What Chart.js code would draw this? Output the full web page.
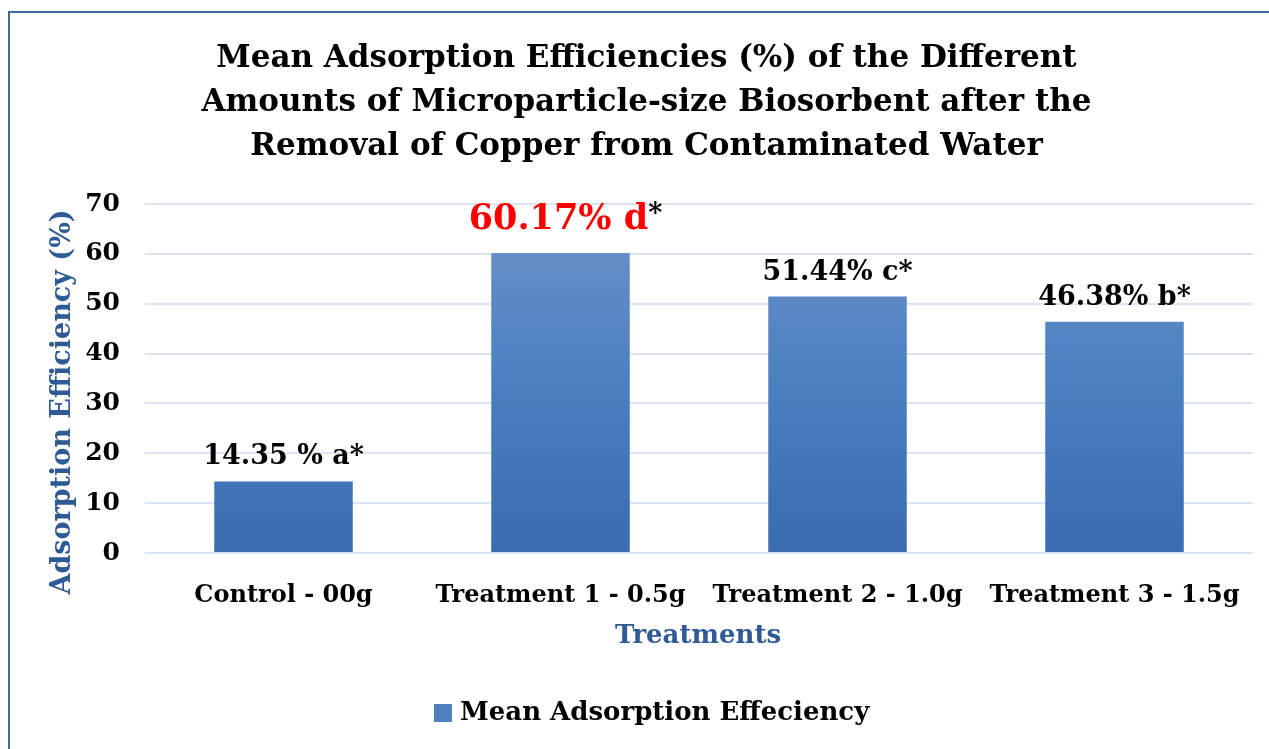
<!DOCTYPE html>
<html>
<head>
<meta charset="utf-8">
<script src="https://cdn.jsdelivr.net/npm/chart.js@4.4.1/dist/chart.umd.min.js"></script>
<style>
  html, body { margin: 0; padding: 0; background: #fff; overflow: hidden; }
  #frame { position: absolute; left: 8px; top: 11px; width: 1300px; height: 800px; border: 2px solid #41679e; box-sizing: border-box; }
  #wrap { position: absolute; left: 0; top: 0; width: 1269px; height: 749px; }
</style>
</head>
<body>
<div id="frame"></div>
<div id="wrap"><canvas id="chart"></canvas></div>
<script>
const categories = ['Control - 00g', 'Treatment 1 - 0.5g', 'Treatment 2 - 1.0g', 'Treatment 3 - 1.5g'];
const efficiency = [14.35, 60.17, 51.44, 46.38];
const valueLabels = ['14.35 % a', '60.17% d', '51.44% c', '46.38% b'];
const labelColors = ['#000000', '#ff0000', '#000000', '#000000'];
const yTicks = [0, 10, 20, 30, 40, 50, 60, 70];
const seriesName = 'Mean Adsorption Effeciency';

const serif = "'DejaVu Serif', 'Liberation Serif', serif";
const axisBlue = '#2e5a95';

function barGradient(context) {
    const chart = context.chart;
    const area = chart.chartArea;
    if (!area) return '#4a7ebf';
    const g = chart.ctx.createLinearGradient(0, area.top, 0, area.bottom);
    g.addColorStop(0, '#6e93ca');
    g.addColorStop(0.5, '#4b80c1');
    g.addColorStop(1, '#3a6caf');
    return g;
}

// value labels above bars, the asterisk always black
const valueLabelPlugin = {
    id: 'valueLabels',
    afterDatasetsDraw(chart) {
        const ctx = chart.ctx;
        const meta = chart.getDatasetMeta(0);
        ctx.save();
        ctx.textBaseline = 'alphabetic';
        ctx.textAlign = 'left';
        meta.data.forEach((bar, i) => {
            const big = i === 1;
            const size = big ? 35 : 27;
            ctx.font = `bold ${size}px ${serif}`;
            const w1 = ctx.measureText(valueLabels[i]).width;
            ctx.font = `bold 27px ${serif}`;
            const w2 = ctx.measureText('*').width;
            const x0 = bar.x - (w1 + w2) / 2 + (big ? 5 : 0);
            const y = bar.y - (big ? 24 : 17);
            ctx.font = `bold ${size}px ${serif}`;
            ctx.fillStyle = labelColors[i];
            ctx.fillText(valueLabels[i], x0, y);
            ctx.font = `bold 27px ${serif}`;
            ctx.fillStyle = '#000';
            ctx.fillText('*', x0 + w1, y - (big ? 7 : 0));
        });
        ctx.restore();
    }
};

// axis titles and legend, placed like the original
const extrasPlugin = {
    id: 'extras',
    afterDraw(chart) {
        const ctx = chart.ctx;
        ctx.save();
        ctx.font = `bold 27px ${serif}`;
        ctx.fillStyle = axisBlue;
        ctx.textAlign = 'center';
        ctx.textBaseline = 'middle';
        ctx.translate(63, 402);
        ctx.rotate(-Math.PI / 2);
        ctx.fillText('Adsorption Efficiency (%)', 0, 0);
        ctx.restore();

        ctx.save();
        ctx.font = `bold 26px ${serif}`;
        ctx.fillStyle = axisBlue;
        ctx.textAlign = 'center';
        ctx.textBaseline = 'middle';
        ctx.fillText('Treatments', 698, 636);

        ctx.fillStyle = '#4f81bd';
        ctx.fillRect(434, 704, 18, 18);
        ctx.fillStyle = '#000';
        ctx.textAlign = 'left';
        ctx.fillText(seriesName, 460, 713);
        ctx.restore();
    }
};

new Chart(document.getElementById('chart'), {
    type: 'bar',
    data: {
        labels: categories,
        datasets: [{
            label: seriesName,
            data: efficiency,
            backgroundColor: barGradient,
            borderWidth: 0,
            categoryPercentage: 1,
            barPercentage: 0.5
        }]
    },
    options: {
        responsive: true,
        maintainAspectRatio: false,
        animation: false,
        layout: { padding: { left: 40, right: 16, top: 0, bottom: 0 } },
        plugins: {
            title: {
                display: true,
                text: ['Mean Adsorption Efficiencies (%) of the Different', 'Amounts of Microparticle-size Biosorbent after the', 'Removal of Copper from Contaminated Water'],
                color: '#000',
                font: { family: serif, size: 31, weight: 'bold', lineHeight: 1.42 },
                padding: { top: 37, bottom: 35 }
            },
            legend: { display: false },
            tooltip: { enabled: false }
        },
        scales: {
            x: {
                afterFit(axis) { axis.height = 196; },
                grid: { display: false },
                border: { display: false },
                ticks: { color: '#000', font: { family: serif, size: 24, weight: 'bold' }, padding: 20, maxRotation: 0, autoSkip: false }
            },
            y: {
                min: 0,
                max: 70,
                afterBuildTicks(axis) { axis.ticks = yTicks.map(v => ({ value: v })); },
                afterFit(axis) { axis.width = 105; },
                grid: { color: '#dae4f3', lineWidth: 2, drawTicks: false },
                border: { display: false },
                ticks: { color: '#000', font: { family: serif, size: 25, weight: 'bold' }, padding: 25 }
            }
        }
    },
    plugins: [valueLabelPlugin, extrasPlugin]
});
</script>
</body>
</html>
